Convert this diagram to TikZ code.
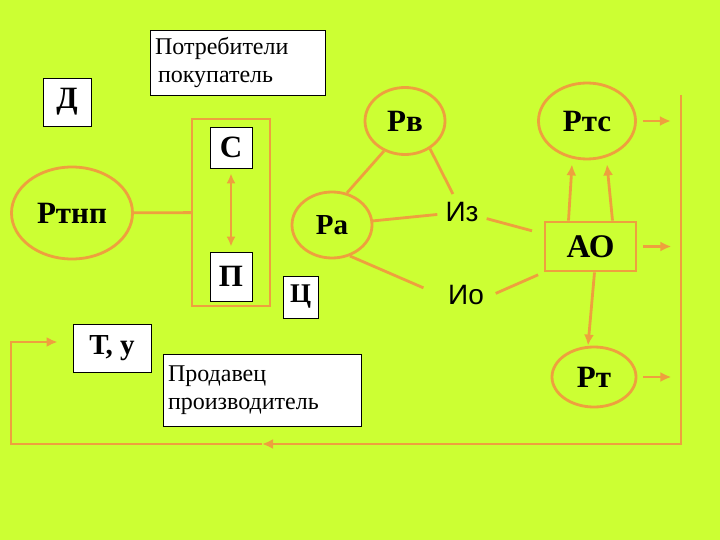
\documentclass[tikz,border=0pt]{standalone}
\usepackage{fontspec}
\setmainfont{Liberation Serif}
\setsansfont{Liberation Sans}
\usetikzlibrary{arrows.meta,shapes.geometric}
\definecolor{lime}{RGB}{204,255,51}
\definecolor{orng}{RGB}{238,160,62}

\begin{document}
\begin{tikzpicture}[x=1pt,y=-1pt,
  lbl/.style={draw=black,fill=white,line width=0.8pt,inner sep=0pt,font=\fontsize{31}{33}\selectfont\bfseries},
  txt/.style={draw=black,fill=white,line width=0.8pt,inner sep=5pt,align=left,font=\fontsize{24}{28}\selectfont},
  ell/.style={ellipse,draw=orng,line width=2.8pt,inner sep=0pt,font=\fontsize{31}{33}\selectfont\bfseries},
  ln/.style={orng,line width=2.8pt},
  arr/.style={orng,line width=2.8pt,-{Latex[length=11pt,width=10pt]}},
  info/.style={inner sep=8pt,font=\sffamily\fontsize{28}{30}\selectfont}]
  \fill[lime] (0,0) rectangle (720,540);
  % left part
  \node[lbl,minimum width=48pt,minimum height=48pt] (D) at (67,102) {Д};
  \node[txt,text width=165pt,minimum height=65pt] (buy) at (237.5,62.5) {Потребители\\\hspace*{3pt}покупатель};
  \node[draw=orng,line width=2.2pt,minimum width=78pt,minimum height=187pt] (cont) at (231,212.5) {};
  \node[lbl,minimum width=42pt,minimum height=41pt] (S) at (231,147.5) {С};
  \node[lbl,minimum width=42pt,minimum height=49pt] (P) at (231,276.5) {П};
  \node[lbl,minimum width=35pt,minimum height=42pt,font=\fontsize{27}{30}\selectfont\bfseries] (C) at (300.5,297) {Ц};
  \node[lbl,minimum width=78pt,minimum height=48pt,font=\fontsize{29}{31}\selectfont\bfseries] (Ty) at (112,348) {Т, у};
  \node[txt,text width=188pt,minimum height=72pt] (sell) at (262,390) {Продавец\\производитель};
  \node[ell,minimum width=121pt,minimum height=92pt] (Rtnp) at (72,213) {Ртнп};
  \draw[ln] (Rtnp) -- (cont);
  \draw[orng,line width=2.2pt,{Latex[length=10pt,width=9pt]}-{Latex[length=10pt,width=9pt]},shorten <=5pt,shorten >=5pt] (S) -- (P);
  % middle part
  \node[ell,minimum width=80pt,minimum height=66pt,font=\fontsize{29}{31}\selectfont\bfseries] (Ra) at (332,225) {Ра};
  \node[ell,minimum width=80pt,minimum height=67pt] (Rv) at (405,121) {Рв};
  \node[info] (Iz) at (462,212) {Из};
  \node[info] (Io) at (466,295) {Ио};
  \draw[ln] (Rv.235) -- (Ra.65);
  \draw[ln] (Rv.312) -- (Iz);
  \draw[ln] (Iz) -- (Ra);
  \draw[ln,shorten >=18pt] (Ra.-60) -- (Io.west);
  % right part
  \node[ell,minimum width=97pt,minimum height=76pt] (Rts) at (587,121) {Ртс};
  \node[draw=orng,line width=2.8pt,minimum width=91pt,minimum height=49pt,font=\fontsize{33}{35}\selectfont\bfseries] (AO) at (590.5,246.5) {АО};
  \node[ell,minimum width=84pt,minimum height=60pt] (Rt) at (594,377) {Рт};
  \draw[ln,shorten >=12pt] (Iz) -- (AO);
  \draw[ln,shorten <=4pt,shorten >=6pt] (Io.east) -- (AO.south west);
  \draw[arr] ([xshift=-22pt]AO.north) -- ([xshift=-15pt,yshift=-4pt]Rts.south);
  \draw[arr] ([xshift=22pt]AO.north) -- ([xshift=20pt,yshift=-4pt]Rts.south);
  \draw[arr] ([xshift=4pt]AO.south) -- ([xshift=-6pt]Rt.north);
  \draw[arr] ([xshift=6pt]Rts.east) -- ++(28,0);
  \draw[arr] ([xshift=6pt]AO.east) -- ++(28,0);
  \draw[arr] ([xshift=6pt]Rt.east) -- ++(28,0);
  % feedback loop
  \coordinate (fbtop) at (681,95);
  \coordinate (fbmid) at (262,444);
  \coordinate (fbleft) at (11,444);
  \draw[arr,line width=2.2pt] (fbtop) |- (fbmid);
  \draw[arr,line width=2.2pt] (fbmid) -- (fbleft) |- ([xshift=-15pt,yshift=6pt]Ty.west);
\end{tikzpicture}
\end{document}
